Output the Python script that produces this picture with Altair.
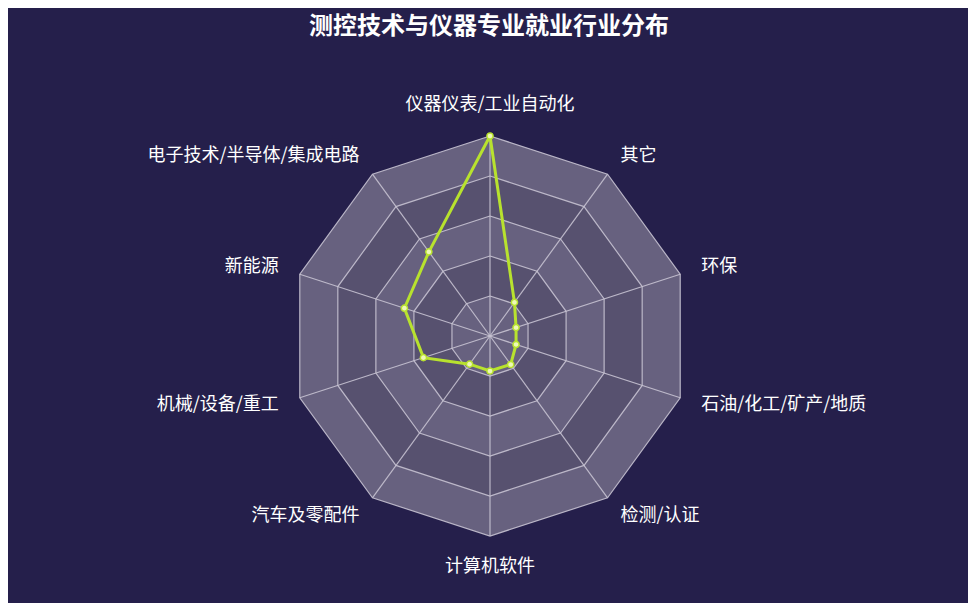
import altair as alt
import pandas as pd

# ---- data ----
categories = ["仪器仪表/工业自动化", "电子技术/半导体/集成电路", "新能源", "机械/设备/重工",
              "汽车及零配件", "计算机软件", "检测/认证", "石油/化工/矿产/地质", "环保", "其它"]
values = [100, 52, 45, 35, 17.4, 17.5, 17.6, 13.7, 13.7, 20.8]
max_value = 100
ring_levels = [5, 4, 3, 2, 1]
band_colors = ["#67617f", "#57516f", "#67617f", "#57516f", "#67617f"]
title_text = "测控技术与仪器专业就业行业分布"

N = len(categories)
BG = "#251f4b"
W, H = 960, 595

# tables built from the arrays
series = pd.DataFrame({"idx": list(range(N)) + [N],
                       "category": categories + [categories[0]],
                       "value": values + [values[0]]})
axes_df = pd.DataFrame({"idx": list(range(N)), "category": categories})
grid_rows = []
for lv in ring_levels:
    for i in range(N + 1):
        grid_rows.append({"ring": lv, "idx": i, "r": lv * max_value / len(ring_levels)})
grid_df = pd.DataFrame(grid_rows)

xs = alt.Scale(domain=[-241, 239], nice=False, zero=False)
ys = alt.Scale(domain=[-133.5, 164], nice=False, zero=False)
X = lambda f: alt.X(f, type="quantitative", scale=xs, axis=None)
Y = lambda f: alt.Y(f, type="quantitative", scale=ys, axis=None)

ang = "datum.idx * 2 * PI / %d" % N

def grid_base():
    return alt.Chart(grid_df).transform_calculate(
        gx=f"-sin({ang}) * datum.r", gy=f"cos({ang}) * datum.r")

layers = []
# filled bands (outer first)
for lv, col in zip(ring_levels, band_colors):
    layers.append(
        grid_base().transform_filter(f"datum.ring == {lv}")
        .mark_line(fill=col, stroke=col, strokeWidth=0, opacity=1)
        .encode(x=X("gx"), y=Y("gy"), order=alt.Order("idx:Q"))
    )
# ring outlines
layers.append(
    grid_base().mark_line(stroke="#c6c2d2", strokeWidth=1.2, opacity=0.9)
    .encode(x=X("gx"), y=Y("gy"), detail="ring:N", order=alt.Order("idx:Q"))
)
# spokes
layers.append(
    alt.Chart(axes_df).transform_calculate(
        ax=f"-sin({ang}) * {max_value}", ay=f"cos({ang}) * {max_value}", zx="0", zy="0")
    .mark_rule(stroke="#c6c2d2", strokeWidth=1.2, opacity=0.9)
    .encode(x=X("zx"), y=Y("zy"), x2="ax:Q", y2="ay:Q")
)
# data line
data_base = alt.Chart(series).transform_calculate(
    px=f"-sin({ang}) * datum.value", py=f"cos({ang}) * datum.value")
layers.append(
    data_base.mark_line(stroke="#b8e22e", strokeWidth=3)
    .encode(x=X("px"), y=Y("py"), order=alt.Order("idx:Q"))
)
layers.append(
    data_base.transform_filter(f"datum.idx < {N}")
    .mark_point(shape="circle", filled=True, fill="#eef8b8", stroke="#b8e22e",
                strokeWidth=1.5, size=38, opacity=1)
    .encode(x=X("px"), y=Y("py"))
)
# axis names
lab = alt.Chart(axes_df).transform_calculate(
    lx=f"-sin({ang}) * 111", ly=f"cos({ang}) * 111")
font = "Noto Sans CJK SC"
for flt, align, baseline in [("datum.lx > 1", "left", "middle"),
                             ("datum.lx < -1", "right", "middle"),
                             ("abs(datum.lx) <= 1 && datum.ly > 0", "center", "bottom"),
                             ("abs(datum.lx) <= 1 && datum.ly < 0", "center", "top")]:
    layers.append(
        lab.transform_filter(flt)
        .mark_text(align=align, baseline=baseline, font=font, fontSize=18, color="#ffffff")
        .encode(x=X("lx"), y=Y("ly"), text="category:N")
    )
# title
layers.append(
    alt.Chart(pd.DataFrame({"t": [title_text]}))
    .mark_text(align="center", baseline="top", font=font, fontSize=24,
               fontWeight="bold", color="#ffffff")
    .encode(x=alt.value(481), y=alt.value(7), text="t:N")
)

chart = alt.layer(*layers).properties(
    width=W, height=H, background=BG, padding=0,
    autosize=alt.AutoSizeParams(type="none")
).configure_view(stroke=None)

chart.save("out.html", embed_options={"renderer": "svg", "actions": False})
